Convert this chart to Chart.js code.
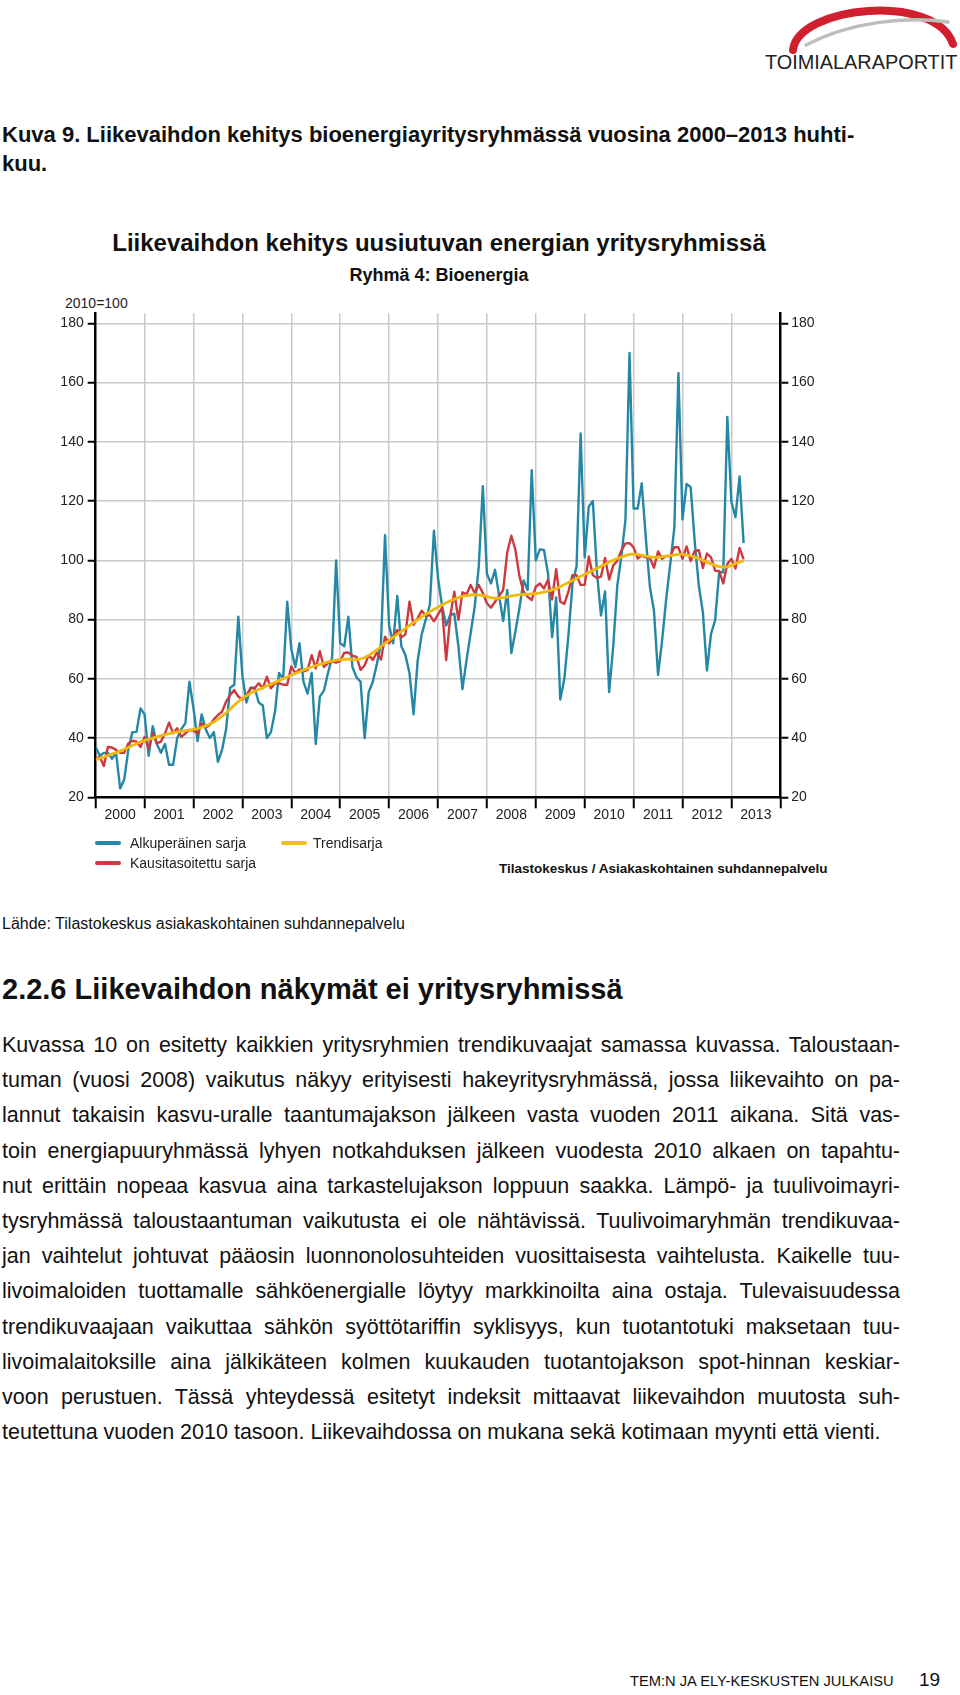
<!DOCTYPE html>
<html lang="fi">
<head>
<meta charset="utf-8">
<title>Kuva 9. Liikevaihdon kehitys bioenergiayritysryhmässä</title>
<script src="https://cdn.jsdelivr.net/npm/chart.js@4.4.1/dist/chart.umd.min.js"></script>
<style>
  html, body { margin: 0; padding: 0; background: #fff; }
  body { width: 960px; height: 1695px; position: relative; overflow: hidden;
         font-family: "Liberation Sans", Arial, Helvetica, sans-serif; color: #111; }
  .abs { position: absolute; white-space: nowrap; }
  .bold { font-weight: bold; }
  #chartWrap { position: absolute; left: 0; top: 290px; width: 960px; height: 550px; }
  .leg { position: absolute; height: 4px; width: 26px; border-radius: 2px; }
  .legtxt { position: absolute; font-size: 14px; line-height: 18px; color: #222; white-space: nowrap; }
  #para { position: absolute; left: 2px; top: 1028px; width: 898px; font-size: 21.5px; line-height: 35.2px; color: #111; }
  #para div { text-align: justify; text-align-last: justify; }
  #para div.last { text-align-last: left; }
</style>
</head>
<body>

<svg class="abs" style="left:0;top:0" width="960" height="80">
  <path d="M 793 50 C 798 6, 935 -8, 953 44" fill="none" stroke="#d21f30" stroke-width="8" stroke-linecap="round"/>
  <path d="M 806 45 C 850 22, 905 16, 948 22" fill="none" stroke="#bdbdbd" stroke-width="3.5" stroke-linecap="round"/>
</svg>
<div class="abs" id="logoTxt" style="left:765px;top:51px;font-size:21px;line-height:22px;color:#222;transform-origin:left center;">TOIMIALARAPORTIT</div>

<div class="abs bold" style="left:2px;top:122px;font-size:22px;line-height:26px;">Kuva 9. Liikevaihdon kehitys bioenergiayritysryhmässä vuosina 2000–2013 huhti-</div>
<div class="abs bold" style="left:2px;top:151px;font-size:22px;line-height:26px;">kuu.</div>

<div class="abs bold" style="left:0;width:878px;text-align:center;top:229px;font-size:24px;line-height:28px;">Liikevaihdon kehitys uusiutuvan energian yritysryhmissä</div>
<div class="abs bold" style="left:0;width:878px;text-align:center;top:264px;font-size:18px;line-height:22px;">Ryhmä 4: Bioenergia</div>
<div class="abs" style="left:65px;top:294px;font-size:14px;line-height:18px;color:#222;">2010=100</div>

<div id="chartWrap"><canvas id="chart" width="960" height="550"></canvas></div>

<div class="leg" style="left:95px;top:841px;background:#2487a5;"></div>
<div class="legtxt" style="left:130px;top:834px;">Alkuperäinen sarja</div>
<div class="leg" style="left:281px;top:841px;background:#f2c01e;"></div>
<div class="legtxt" style="left:313px;top:834px;">Trendisarja</div>
<div class="leg" style="left:95px;top:861px;background:#cc3a40;"></div>
<div class="legtxt" style="left:130px;top:854px;">Kausitasoitettu sarja</div>
<div class="abs bold" style="left:499px;top:860px;font-size:13.5px;line-height:17px;color:#111;">Tilastokeskus / Asiakaskohtainen suhdannepalvelu</div>

<div class="abs" style="left:2px;top:914px;font-size:16px;line-height:20px;">Lähde: Tilastokeskus asiakaskohtainen suhdannepalvelu</div>
<div class="abs bold" style="left:2px;top:972px;font-size:29px;line-height:34px;">2.2.6 Liikevaihdon näkymät ei yritysryhmissä</div>

<div id="para">
  <div>Kuvassa 10 on esitetty kaikkien yritysryhmien trendikuvaajat samassa kuvassa. Taloustaan-</div>
  <div>tuman (vuosi 2008) vaikutus näkyy erityisesti hakeyritysryhmässä, jossa liikevaihto on pa-</div>
  <div>lannut takaisin kasvu-uralle taantumajakson jälkeen vasta vuoden 2011 aikana. Sitä vas-</div>
  <div>toin energiapuuryhmässä lyhyen notkahduksen jälkeen vuodesta 2010 alkaen on tapahtu-</div>
  <div>nut erittäin nopeaa kasvua aina tarkastelujakson loppuun saakka. Lämpö- ja tuulivoimayri-</div>
  <div>tysryhmässä taloustaantuman vaikutusta ei ole nähtävissä. Tuulivoimaryhmän trendikuvaa-</div>
  <div>jan vaihtelut johtuvat pääosin luonnonolosuhteiden vuosittaisesta vaihtelusta. Kaikelle tuu-</div>
  <div>livoimaloiden tuottamalle sähköenergialle löytyy markkinoilta aina ostaja. Tulevaisuudessa</div>
  <div>trendikuvaajaan vaikuttaa sähkön syöttötariffin syklisyys, kun tuotantotuki maksetaan tuu-</div>
  <div>livoimalaitoksille aina jälkikäteen kolmen kuukauden tuotantojakson spot-hinnan keskiar-</div>
  <div>voon perustuen. Tässä yhteydessä esitetyt indeksit mittaavat liikevaihdon muutosta suh-</div>
  <div class="last">teutettuna vuoden 2010 tasoon. Liikevaihdossa on mukana sekä kotimaan myynti että vienti.</div>
</div>

<div class="abs" style="left:630px;top:1672px;font-size:14.7px;line-height:18px;color:#111;">TEM:N JA ELY-KESKUSTEN JULKAISU</div>
<div class="abs" style="left:919px;top:1669px;font-size:19px;line-height:22px;color:#111;">19</div>

<script>
// tick labels
const years = ['2000', '2001', '2002', '2003', '2004', '2005', '2006', '2007',
               '2008', '2009', '2010', '2011', '2012', '2013'];
const yTicks = [20, 40, 60, 80, 100, 120, 140, 160, 180];

// monthly values 2000/01 - 2013/04, 2010=100
const original = [
  37, 34, 35, 35, 33, 35, 23, 26, 36, 42, 42, 50,
  48, 34, 44, 38, 35, 38, 31, 31, 40, 43, 45, 59,
  50, 39, 48, 43, 40, 42, 32, 36, 43, 57, 58, 81,
  61, 52, 57, 57, 52, 51, 40, 42, 49, 62, 60, 86,
  70, 64, 72, 59, 55, 62, 38, 54, 56, 62, 67, 100,
  72, 71, 81, 64, 60.5, 59, 40, 55.5, 59, 65, 72, 108.5,
  78, 72, 88, 71, 68, 62, 48, 66, 75, 80, 85, 110,
  94, 84.5, 78, 81.5, 82, 71, 56.5, 66.3, 75.3, 84.3, 97.8, 125,
  95.5, 92.2, 96.8, 88, 79.5, 90, 68.7, 76, 84, 93.2, 90, 130.4,
  100, 103.7, 103.5, 95.5, 74.1, 87.5, 53, 60, 74.6, 92, 98, 142.8,
  101, 118.2, 120, 96, 81.4, 89.5, 55.5, 71, 91.5, 101.4, 113.7, 170,
  117.5, 117.5, 126, 107.5, 91, 83, 61.3, 73, 87, 98.8, 111, 163.2,
  113.8, 125.8, 124.7, 106.4, 91.5, 82.5, 62.8, 75.2, 79.7, 96, 96, 148.4,
  119.7, 114.6, 128.3, 105.8
];
const seasonal = [
  33, 33.7, 30.6, 37, 36.8, 36, 35, 35, 38.2, 39.1, 38.8, 37,
  40.4, 36.5, 41.6, 38.2, 38.8, 41.6, 45.2, 41.6, 43.3, 40.4, 41.6, 42.7,
  42.5, 41.6, 45, 43.6, 44.4, 46.3, 47.8, 48.9, 52.3, 54.5, 56.2, 54,
  53, 54.5, 56.8, 56.8, 58.5, 56.8, 60.7, 56.8, 58.5, 58.5, 58, 58,
  64.2, 61.9, 63.2, 62.5, 63, 68, 63.5, 69.3, 64, 65.2, 65.8, 65.5,
  66, 68.8, 68.9, 67.8, 67.4, 63, 64.6, 68, 66.4, 68.9, 66.5, 74.2,
  72, 74, 76.5, 74, 75, 86, 78.2, 80.5, 83, 81.3, 81.5, 79.4,
  81.7, 84, 66.3, 81, 89.4, 79.9, 89.2, 88.5, 91.7, 89, 91.7, 89,
  85.5, 84, 86, 88, 90, 102.8, 108.3, 103.5, 94.5, 89.4, 87.7, 86.6,
  91.1, 92.2, 90.5, 93.4, 86.8, 97, 86, 85.3, 89.4, 95, 95, 91.7,
  91.7, 101.3, 95, 94, 94.5, 100.8, 93.5, 98.3, 99.8, 103.3, 105.7, 105.8,
  104.4, 100.6, 101.6, 101, 100.8, 97.5, 103, 100.5, 101.5, 101.4, 104.4, 104.4,
  100.5, 104.7, 99.8, 103.2, 103.4, 97.4, 102.3, 101, 96.5, 96.4, 92.2, 98.8,
  100.5, 97.2, 104.2, 100.3
];
const trend = [
  32.7, 33.2, 33.6, 34.1, 34.6, 35.1, 35.6, 36.2, 36.8, 37.5, 38.1, 38.7,
  39.2, 39.6, 40.0, 40.4, 40.8, 41.2, 41.5, 41.8, 42.1, 42.3, 42.5, 42.7,
  42.9, 43.2, 43.6, 44.1, 44.7, 45.4, 46.3, 47.3, 48.5, 49.8, 51.1, 52.3,
  53.4, 54.3, 55.1, 55.8, 56.4, 57.0, 57.6, 58.2, 58.8, 59.4, 60.0, 60.6,
  61.2, 61.8, 62.4, 63.0, 63.5, 64.0, 64.5, 64.9, 65.3, 65.7, 66.0, 66.3,
  66.5, 66.6, 66.6, 66.5, 66.5, 66.7, 67.2, 67.9, 68.8, 69.8, 70.9, 72.0,
  73.0, 74.0, 75.0, 76.0, 77.0, 78.0, 79.0, 80.0, 80.9, 81.8, 82.6, 83.4,
  84.2, 85.0, 85.7, 86.3, 86.9, 87.4, 87.8, 88.1, 88.3, 88.4, 88.3, 88.1,
  87.8, 87.4, 87.2, 87.2, 87.4, 87.7, 88.0, 88.2, 88.4, 88.5, 88.6, 88.7,
  88.8, 89.0, 89.3, 89.6, 90.0, 90.5, 91.1, 91.8, 92.5, 93.2, 93.9, 94.6,
  95.2, 95.9, 96.6, 97.3, 98.0, 98.7, 99.4, 100.0, 100.6, 101.1, 101.6, 102.0,
  102.1, 102.0, 101.7, 101.4, 101.2, 101.1, 101.1, 101.2, 101.4, 101.6, 101.8, 102.0,
  102.0, 101.8, 101.5, 101.1, 100.6, 100.0, 99.4, 98.8, 98.3, 97.9, 97.7, 97.8,
  98.3, 98.9, 99.4, 99.8
];

const BLUE = '#2487a5';
const RED = '#cc3a40';
const YELLOW = '#f0b90c';
const GRID = '#c9c9c9';
const CLEAR = 'rgba(0,0,0,0)';

// fit the logo text to its box
const logo = document.getElementById('logoTxt');
logo.style.transform = 'scaleX(' + (192 / logo.offsetWidth) + ')';

Chart.defaults.font.family = '"Liberation Sans", Arial, sans-serif';
Chart.defaults.font.size = 14;
Chart.defaults.color = '#222';

const pts = arr => arr.map((v, i) => ({ x: i, y: v }));
const yearEdges = years.map((y, i) => i * 12).concat([years.length * 12]);
const lastMonth = years.length * 12;

const yAxis = (pos, pad) => ({
  position: pos,
  min: 20,
  max: 183.4,
  afterBuildTicks: s => { s.ticks = yTicks.map(v => ({ value: v })); },
  afterFit: s => { s.width = 40; },
  ticks: { padding: pad, color: '#222', font: { size: 14 } },
  grid: {
    drawOnChartArea: pos === 'left',
    color: c => (c.tick && c.tick.value === 20) ? CLEAR : GRID,
    lineWidth: 1.5,
    tickColor: '#000',
    tickLength: 8,
    tickWidth: 2
  },
  border: { color: '#000', width: 2.5 }
});

const ctx = document.getElementById('chart').getContext('2d');
new Chart(ctx, {
  type: 'line',
  data: {
    datasets: [
      { label: 'Trendisarja', data: pts(trend), borderColor: YELLOW, borderWidth: 2.8, order: 0 },
      { label: 'Kausitasoitettu sarja', data: pts(seasonal), borderColor: RED, borderWidth: 2.4, order: 1 },
      { label: 'Alkuperäinen sarja', data: pts(original), borderColor: BLUE, borderWidth: 2.4, order: 2 }
    ]
  },
  options: {
    responsive: false,
    animation: false,
    elements: {
      point: { radius: 0 },
      line: { tension: 0, borderJoinStyle: 'round' }
    },
    layout: { padding: { left: 55.7, right: 139.7, top: 23.3, bottom: 12.7 } },
    plugins: { legend: { display: false }, tooltip: { enabled: false } },
    scales: {
      x: {
        type: 'linear',
        position: 'bottom',
        min: 0,
        max: lastMonth,
        weight: 0,
        afterBuildTicks: s => { s.ticks = yearEdges.map(v => ({ value: v })); },
        afterFit: s => { s.height = 0; },
        ticks: { display: false },
        grid: {
          color: c => (c.tick && (c.tick.value === 0 || c.tick.value === lastMonth)) ? CLEAR : GRID,
          lineWidth: 1.5,
          tickColor: '#000',
          tickLength: 11,
          tickWidth: 2
        },
        border: { color: '#000', width: 2.5 }
      },
      xYears: {
        type: 'linear',
        position: 'bottom',
        min: 0,
        max: lastMonth,
        weight: 1,
        afterBuildTicks: s => { s.ticks = years.map((y, i) => ({ value: i * 12 + 6 })); },
        afterFit: s => { s.height = 30; },
        ticks: {
          callback: v => years[(v - 6) / 12],
          autoSkip: false,
          maxRotation: 0,
          padding: 1,
          color: '#222',
          font: { size: 14 }
        },
        grid: { display: false },
        border: { display: false }
      },
      y: yAxis('left', 4),
      yRight: yAxis('right', 3)
    }
  }
});
</script>
</body>
</html>
